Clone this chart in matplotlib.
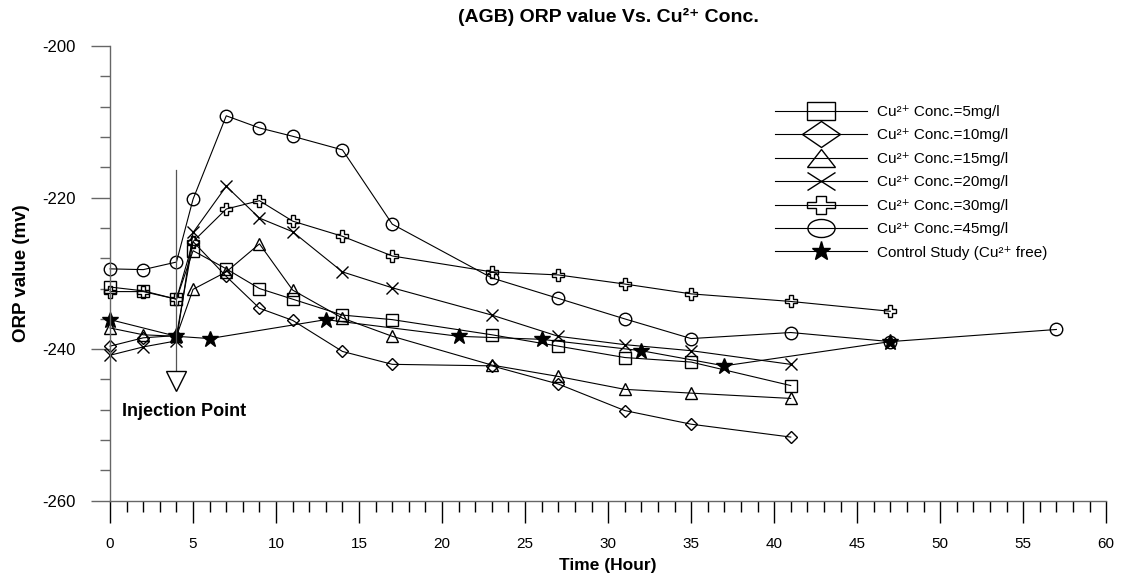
import matplotlib
matplotlib.use("Agg")
import matplotlib.pyplot as plt
from matplotlib import ticker
from matplotlib.markers import MarkerStyle
from matplotlib.transforms import Affine2D
from matplotlib.lines import Line2D

# time axis (hours) and ORP readings (mv)
hours = [0, 2, 4, 5, 7, 9, 11, 14, 17, 23, 27, 31, 35, 41]
orp_5 = [-231.8, -232.3, -233.4, -227.0, -229.4, -232.0, -233.4, -235.5, -236.1, -238.1, -239.6, -241.1, -241.7, -244.8]
orp_10 = [-239.6, -238.5, -238.2, -225.8, -230.4, -234.6, -236.2, -240.3, -242.0, -242.2, -244.6, -248.1, -249.9, -251.6]
orp_15 = [-237.2, -238.1, -238.3, -232.1, -229.8, -226.1, -232.2, -235.9, -238.3, -242.1, -243.6, -245.3, -245.8, -246.5]
orp_20 = [-240.8, -239.7, -238.9, -224.6, -218.5, -222.7, -224.5, -229.8, -231.9, -235.5, -238.3, -239.4, -240.2, -242.0]
hours_30 = [0, 2, 4, 5, 7, 9, 11, 14, 17, 23, 27, 31, 35, 41, 47]
orp_30 = [-232.4, -232.4, -233.4, -225.8, -221.5, -220.4, -223.1, -225.1, -227.7, -229.8, -230.2, -231.4, -232.7, -233.7, -235.0]
hours_45 = [0, 2, 4, 5, 7, 9, 11, 14, 17, 23, 27, 31, 35, 41, 47, 57]
orp_45 = [-229.4, -229.5, -228.5, -220.2, -209.2, -210.8, -211.9, -213.7, -223.5, -230.6, -233.3, -236.0, -238.6, -237.8, -239.0, -237.4]
hours_ctrl = [0, 4, 6, 13, 21, 26, 32, 37, 47]
orp_ctrl = [-236.1, -238.3, -238.6, -236.1, -238.3, -238.7, -240.2, -242.2, -239.0]

labels = ["Cu²⁺ Conc.=5mg/l", "Cu²⁺ Conc.=10mg/l", "Cu²⁺ Conc.=15mg/l", "Cu²⁺ Conc.=20mg/l",
          "Cu²⁺ Conc.=30mg/l", "Cu²⁺ Conc.=45mg/l", "Control Study (Cu²⁺ free)"]

injection_hour = 4
injection_top = -216.4
injection_mark = -244.2

plt.rcParams["axes.unicode_minus"] = False
font = ["Liberation Sans", "DejaVu Sans"]
plt.rcParams["font.family"] = font
axis_col = "#666666"

fig = plt.figure(figsize=(11.23, 5.77), dpi=100)
ax = fig.add_axes([0.098, 0.1322, 0.887, 0.7879])

series = [
    (hours, orp_5, "s", 8, "none"),
    (hours, orp_10, "D", 6.5, "none"),
    (hours, orp_15, "^", 9, "none"),
    (hours, orp_20, "x", 9, "none"),
    (hours_30, orp_30, "P", 9, "none"),
    (hours_45, orp_45, "o", 9, "none"),
    (hours_ctrl, orp_ctrl, "*", 12, "black"),
]
for x, y, m, ms, fc in series:
    ax.plot(x, y, color="black", lw=0.8, marker=m, ms=ms, mfc=fc, mec="black", mew=1.0, clip_on=False)

# injection marker
ax.plot([injection_hour, injection_hour], [injection_top, injection_mark + 1.0], color="#555555", lw=0.9)
ax.plot([injection_hour], [injection_mark], marker="v", ms=14, mfc="white", mec="black", mew=1.0)
ax.text(0.7, -248.2, "Injection Point", fontweight="bold", fontsize=13, va="center", ha="left")

ax.set_xlim(0, 60)
ax.set_ylim(-260, -200)
ax.xaxis.set_major_locator(ticker.MultipleLocator(5))
ax.xaxis.set_minor_locator(ticker.MultipleLocator(1))
ax.yaxis.set_major_locator(ticker.MultipleLocator(20))
ax.yaxis.set_minor_locator(ticker.MultipleLocator(4))

for s in ["top", "right"]:
    ax.spines[s].set_visible(False)
for s in ["left", "bottom"]:
    ax.spines[s].set_color(axis_col)
    ax.spines[s].set_linewidth(1.0)

ax.tick_params(axis="x", which="major", direction="out", length=16, width=1, color="black", pad=10, labelsize=11)
ax.tick_params(axis="x", which="minor", direction="out", length=8, width=1, color="black")
ax.tick_params(axis="y", which="major", direction="out", length=14, width=1, color=axis_col, pad=11, labelsize=12)
ax.tick_params(axis="y", which="minor", direction="out", length=7, width=1, color=axis_col)

ax.set_xlabel("Time (Hour)", fontweight="bold", fontsize=12.5, labelpad=5)
ax.set_ylabel("ORP value (mv)", fontweight="bold", fontsize=13.5)
ax.yaxis.set_label_coords(-0.08, 0.5)
ax.set_title("(AGB) ORP value Vs. Cu²⁺ Conc.", fontweight="bold", fontsize=14, pad=17)

# legend with widened markers like the original
wide = Affine2D().scale(1.5, 1.0)
handles = []
for x, y, m, ms, fc in series:
    if m == "*":
        mk = MarkerStyle(m)
        size = 14
    else:
        mk = MarkerStyle(m, fillstyle="none", transform=wide)
        size = 13
    handles.append(Line2D([], [], color="black", lw=0.8, marker=mk, ms=size, mfc=fc, mec="black", mew=1.0))
leg = ax.legend(handles, labels, loc="upper left", bbox_to_anchor=(775 / 1123, 1 - 105 / 577),
                bbox_transform=fig.transFigure, frameon=False, fontsize=11, handlelength=6.0,
                handletextpad=0.7, labelspacing=0.62, borderpad=0, borderaxespad=0)

plt.savefig("out.png", dpi=100)
